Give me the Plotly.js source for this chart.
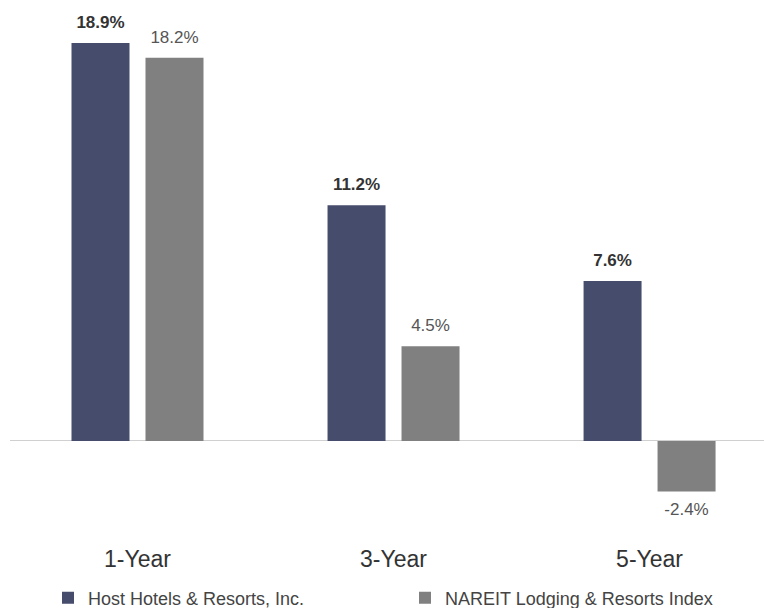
<!DOCTYPE html>
<html>
<head>
<meta charset="utf-8">
<script src="https://cdn.plot.ly/plotly-3.0.1.min.js"></script>
<style>html,body{margin:0;padding:0;background:#fff;}#chart{width:764px;height:608px;}</style>
</head>
<body>
<div id="chart"></div>
<script>
var categories = ['1-Year', '3-Year', '5-Year'];
var hostName = 'Host Hotels & Resorts, Inc.';
var hostValues = [18.9, 11.2, 7.6];
var nareitName = 'NAREIT Lodging & Resorts Index';
var nareitValues = [18.2, 4.5, -2.4];

function labelTrace(name, values, font) {
  return {
    type: 'scatter', mode: 'markers+text', name: name + ' labels', showlegend: false,
    x: categories, y: values,
    text: values.map(function (v) { return v.toFixed(1) + '%'; }),
    textposition: values.map(function (v) { return v < 0 ? 'bottom center' : 'top center'; }),
    marker: {size: 16, opacity: 0, color: '#ffffff'},
    textfont: font, cliponaxis: false, hoverinfo: 'skip'
  };
}

var traces = [
  {
    type: 'bar', name: hostName, x: categories, y: hostValues,
    marker: {color: '#464d6c'}, hoverinfo: 'skip'
  },
  {
    type: 'bar', name: nareitName, x: categories, y: nareitValues,
    marker: {color: '#808080'}, hoverinfo: 'skip'
  },
  labelTrace(hostName, hostValues, {family: 'Liberation Sans, Arial, sans-serif', size: 17, color: '#333333', weight: 'bold'}),
  labelTrace(nareitName, nareitValues, {family: 'Liberation Sans, Arial, sans-serif', size: 17, color: '#555555'})
];

var layout = {
  width: 764, height: 608,
  margin: {l: 10, r: 0, t: 10, b: 0, autoexpand: false},
  paper_bgcolor: '#ffffff', plot_bgcolor: '#ffffff',
  barmode: 'group', bargap: 0.422, bargroupgap: 0.216,
  scattermode: 'group', scattergap: 0.422,
  font: {family: 'Liberation Sans, Arial, sans-serif', color: '#333333'},
  xaxis: {
    type: 'category', range: [-0.498, 2.447],
    showgrid: false, showline: false, zeroline: false, ticks: '',
    tickfont: {size: 23, color: '#333333'}, ticklabelstandoff: 5
  },
  yaxis: {
    domain: [0.1171, 1],
    range: [-4.61, 20.47], showgrid: false, showticklabels: false,
    zeroline: true, zerolinecolor: '#d0d0d0', zerolinewidth: 1, showline: false, ticks: ''
  },
  showlegend: true,
  legend: {
    orientation: 'h', x: 0.0504, xanchor: 'left', y: 0.0167, yanchor: 'middle',
    entrywidth: 312, entrywidthmode: 'pixels',
    font: {size: 18, color: '#444444'}, traceorder: 'normal'
  }
};

Plotly.newPlot('chart', traces, layout, {staticPlot: true});
</script>
</body>
</html>
